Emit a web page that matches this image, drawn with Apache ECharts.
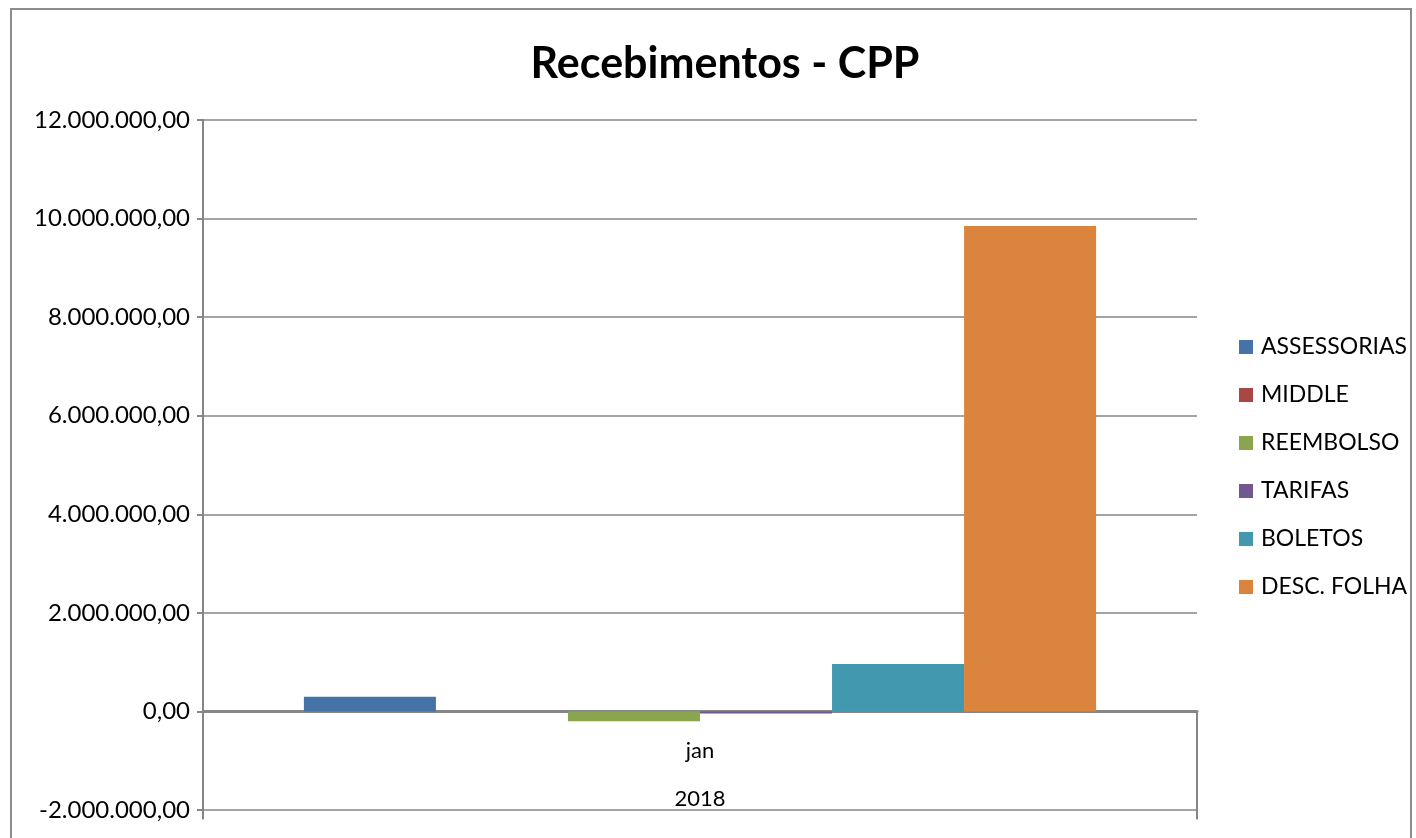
<!DOCTYPE html>
<html>
<head>
<meta charset="utf-8">
<title>Recebimentos - CPP</title>
<script src="https://cdn.jsdelivr.net/npm/echarts@6/dist/echarts.min.js"></script>
<style>
    html, body { margin: 0; padding: 0; background: #fff; }
    #main { width: 1416px; height: 838px; }
</style>
</head>
<body>
<div id="main"></div>
<script>
    ///dados do grafico
    var categorias = ['jan'];
    var anos = ['2018'];
    var serieNomes = ['ASSESSORIAS', 'MIDDLE', 'REEMBOLSO', 'TARIFAS', 'BOLETOS', 'DESC. FOLHA'];
    var assessorias = [300000];
    var middle = [0];
    var reembolso = [-200000];
    var tarifas = [-40000];
    var boletos = [960000];
    var descFolha = [9850000];
    var cores = ['#4572A7', '#AA4643', '#89A54E', '#71588F', '#4198AF', '#DB843D'];

    (function (window) {
        var fonte = 'Lato, "Liberation Sans", sans-serif';
        var cinza = '#868686';

        // formato brasileiro 12.000.000,00
        var formatar = function (v) {
            var neg = v < 0;
            var s = Math.abs(Math.round(v)).toString();
            s = s.replace(/\B(?=(\d{3})+(?!\d))/g, '.');
            return (neg ? '-' : '') + s + ',00';
        };

        // eixo so de rotulo, preso na linha de baixo
        var eixoRotulo = function (dados, margem) {
            return {
                type: 'category',
                data: dados,
                position: 'bottom',
                axisLine: { show: false, onZero: false },
                axisTick: { show: false },
                splitLine: { show: false },
                axisLabel: {
                    inside: true,
                    margin: margem,
                    fontFamily: fonte,
                    fontSize: 22,
                    color: '#000'
                }
            };
        };

        var valores = [assessorias, middle, reembolso, tarifas, boletos, descFolha];
        var series = [];
        for (var i = 0; i < serieNomes.length; i++) {
            series.push({
                name: serieNomes[i],
                type: 'bar',
                data: valores[i],
                barGap: '0%',
                barCategoryGap: '20.3%',
                itemStyle: { color: cores[i] }
            });
        }

        var chart = echarts.init(document.getElementById('main'));
        var option = {
            backgroundColor: '#fff',
            animation: false,
            color: cores,
            title: {
                text: 'Recebimentos - CPP',
                left: 720,
                top: 38,
                textAlign: 'center',
                textStyle: { fontFamily: fonte, fontSize: 43, fontWeight: 'bold', color: '#000' }
            },
            legend: {
                orient: 'vertical',
                left: 1239,
                top: 335,
                padding: 0,
                itemWidth: 14,
                itemHeight: 14,
                itemGap: 24,
                icon: 'rect',
                data: serieNomes,
                textStyle: { fontFamily: fonte, fontSize: 23, lineHeight: 24, color: '#000', padding: [0, 0, 0, 3] }
            },
            grid: { left: 203, right: 219, top: 120, bottom: 28, containLabel: false, outerBoundsMode: 'none' },
            xAxis: [{
                // eixo principal na linha do zero
                type: 'category',
                data: categorias,
                axisLine: { onZero: true, lineStyle: { color: cinza, width: 3 } },
                axisTick: { show: true, length: 108, lineStyle: { color: cinza, width: 2 } },
                axisLabel: { show: false }
            },
                eixoRotulo(anos, 0),
                eixoRotulo(categorias, 48)
            ],
            yAxis: {
                type: 'value',
                min: -2000000,
                max: 12000000,
                interval: 2000000,
                axisLine: { show: true, lineStyle: { color: cinza, width: 2 } },
                axisTick: { show: true, length: 6, lineStyle: { color: cinza, width: 2 } },
                splitLine: { lineStyle: { color: cinza, width: 1.5 } },
                axisLabel: {
                    margin: 13,
                    fontFamily: fonte,
                    fontSize: 24,
                    color: '#000',
                    formatter: formatar
                }
            },
            graphic: [{
                type: 'rect',
                shape: { x: 11, y: 9, width: 1400, height: 840 },
                style: { fill: null, stroke: '#8c8c8c', lineWidth: 2 },
                z: -1
            }],
            series: series
        };
        chart.setOption(option);
    })(window);
</script>
</body>
</html>
